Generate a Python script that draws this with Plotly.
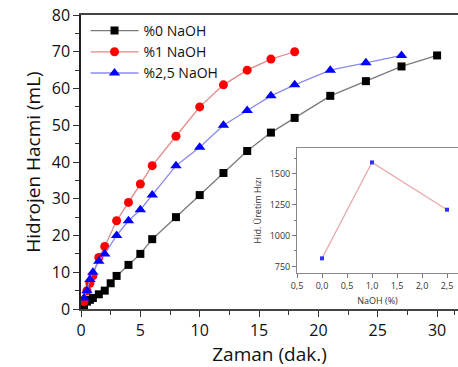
import plotly.graph_objects as go

# Main chart data
x0 = [0.25, 0.5, 0.75, 1, 1.5, 2, 2.5, 3, 4, 5, 6, 8, 10, 12, 14, 16, 18, 21, 24, 27, 30]
y0 = [1, 2, 2.5, 3, 4, 5, 7, 9, 12, 15, 19, 25, 31, 37, 43, 48, 52, 58, 62, 66, 69]

x1 = [0.25, 0.5, 0.75, 1, 1.5, 2, 3, 4, 5, 6, 8, 10, 12, 14, 16, 18]
y1 = [2, 5, 7, 9, 14, 17, 24, 29, 34, 39, 47, 55, 61, 65, 68, 70]

x25 = [0.25, 0.5, 0.75, 1, 1.5, 2, 3, 4, 5, 6, 8, 10, 12, 14, 16, 18, 21, 24, 27]
y25 = [3, 5, 8, 10, 13, 15, 20, 24, 27, 31, 39, 44, 50, 54, 58, 61, 65, 67, 69]

names = ["%0 NaOH", "%1 NaOH", "%2,5 NaOH"]

# Inset data
naoh = [0, 1, 2.5]
rate = [815, 1594, 1210]
inset_xticks = [-0.5, 0, 0.5, 1, 1.5, 2, 2.5]
inset_xtext = ["0,5", "0,0", "0,5", "1,0", "1,5", "2,0", "2,5"]
inset_yticks = [750, 1000, 1250, 1500]

FONT = "Open Sans"

fig = go.Figure()
fig.add_trace(go.Scatter(x=x0, y=y0, name=names[0], mode="lines+markers",
                         line=dict(color="#7a7a7a", width=1.3),
                         marker=dict(symbol="square", size=8, color="black")))
fig.add_trace(go.Scatter(x=x1, y=y1, name=names[1], mode="lines+markers",
                         line=dict(color="#e08a8a", width=1.3),
                         marker=dict(symbol="circle", size=9, color="#ff0000")))
fig.add_trace(go.Scatter(x=x25, y=y25, name=names[2], mode="lines+markers",
                         line=dict(color="#8a8aee", width=1.3),
                         marker=dict(symbol="triangle-up", size=10, color="#0000ff")))

fig.add_trace(go.Scatter(x=naoh, y=rate, mode="lines+markers", showlegend=False,
                         xaxis="x2", yaxis="y2",
                         line=dict(color="#e8a8a8", width=1.2),
                         marker=dict(symbol="square", size=4, color="#3030ff")))

fig.update_layout(
    width=458, height=367,
    margin=dict(l=81, r=0, t=15, b=58),
    paper_bgcolor="white", plot_bgcolor="white",
    font=dict(family=FONT, color="#111"),
    legend=dict(x=0.012, y=1.0, xanchor="left", yanchor="top",
                font=dict(size=14, family=FONT), bgcolor="rgba(0,0,0,0)",
                itemwidth=48, tracegroupgap=0),
    xaxis=dict(range=[0, 31.76], tickvals=[0, 5, 10, 15, 20, 25, 30],
               ticks="outside", ticklen=6, tickwidth=1.2, tickcolor="#333",
               minor=dict(tickvals=[2.5, 7.5, 12.5, 17.5, 22.5, 27.5, 31.5], ticks="outside", ticklen=4, tickcolor="#333"),
               showline=True, linecolor="#444", linewidth=1.8, mirror=True,
               showgrid=False, zeroline=False,
               tickfont=dict(size=16, family=FONT),
               title=dict(text="Zaman (dak.)", font=dict(size=19, family=FONT), standoff=8)),
    yaxis=dict(range=[0, 80], tickvals=[0, 10, 20, 30, 40, 50, 60, 70, 80],
               ticks="outside", ticklen=6, tickwidth=1.2, tickcolor="#333",
               minor=dict(tickvals=[5, 15, 25, 35, 45, 55, 65, 75], ticks="outside", ticklen=4, tickcolor="#333"),
               showline=True, linecolor="#222", linewidth=1.5,
               showgrid=False, zeroline=False,
               tickfont=dict(size=16, family=FONT),
               title=dict(text="Hidrojen Hacmi (mL)", font=dict(size=19, family=FONT), standoff=6)),
    xaxis2=dict(domain=[0.573, 1.0], anchor="y2", range=[-0.5, 2.72],
                tickvals=inset_xticks, ticktext=inset_xtext,
                ticks="outside", ticklen=4, tickcolor="#777",
                showline=True, linecolor="#888", linewidth=1, mirror=True,
                showgrid=False, zeroline=False,
                tickfont=dict(size=9, family=FONT, color="#333"),
                title=dict(text="NaOH (%)", font=dict(size=9, family=FONT, color="#333"), standoff=6)),
    yaxis2=dict(domain=[0.1224, 0.5476], anchor="x2", range=[696, 1711],
                tickvals=inset_yticks,
                ticks="outside", ticklen=4, tickcolor="#777",
                minor=dict(tickvals=[875, 1125, 1375, 1625], ticks="outside", ticklen=2, tickcolor="#777"),
                showline=True, linecolor="#888", linewidth=1,
                showgrid=False, zeroline=False,
                tickfont=dict(size=9, family=FONT, color="#333"),
                title=dict(text="Hid. Üretim Hızı", font=dict(size=9, family=FONT, color="#333"), standoff=6)),
)

fig.write_html("out.html", config={"displayModeBar": False},
               post_script="document.body.style.margin='0';document.body.style.overflow='hidden';")
